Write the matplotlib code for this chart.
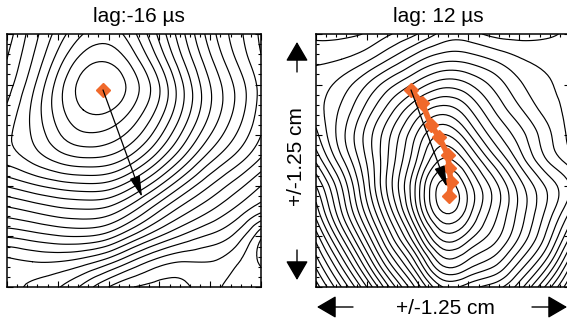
import numpy as np
import matplotlib
matplotlib.use('Agg')
import matplotlib.pyplot as plt
import matplotlib.tri as mtri

plt.rcParams['font.family'] = ['Liberation Sans', 'DejaVu Sans']

# grid positions (cm) across each 2.5 cm panel
grid_cm = np.linspace(0, 2.5, 11)

# left panel field (contour index from the peak), rows listed top -> bottom
left_field = [
    [8.5, 6.5, 4.6, 3.0, 2.5, 3.8, 6.3, 9.0, 11.5, 13.5, 15.2],
    [8.0, 6.0, 3.6, 1.6, 1.2, 2.6, 5.2, 8.2, 10.8, 13.0, 14.9],
    [7.5, 5.3, 2.6, 0.6, 0.2, 1.6, 4.0, 7.2, 10.0, 12.2, 14.4],
    [6.8, 4.8, 2.5, 1.0, 0.9, 2.2, 4.4, 7.3, 10.0, 12.2, 14.5],
    [6.2, 4.9, 3.2, 2.2, 2.4, 3.6, 5.8, 8.5, 11.0, 13.0, 15.0],
    [6.7, 5.8, 4.8, 4.3, 4.5, 5.8, 8.0, 10.5, 12.8, 14.5, 16.2],
    [8.9, 8.2, 7.6, 7.3, 7.5, 8.9, 11.0, 13.2, 15.0, 16.5, 18.0],
    [11.4, 10.9, 10.4, 10.2, 10.5, 12.0, 14.0, 15.7, 17.0, 18.3, 19.8],
    [13.9, 13.5, 13.1, 13.0, 13.6, 15.3, 17.0, 18.3, 19.2, 20.3, 22.8],
    [16.3, 16.0, 16.0, 16.5, 17.6, 19.2, 20.5, 21.0, 21.0, 21.8, 23.2],
    [16.7, 17.2, 17.9, 19.3, 21.0, 22.0, 22.3, 22.2, 21.6, 22.6, 22.0],
]

# right panel field (contour index from the centre), rows listed top -> bottom
right_field = [
    [19.3, 19.2, 18.9, 18.0, 17.0, 15.7, 15.6, 16.3, 16.4, 16.2, 15.8],
    [18.2, 18.0, 17.2, 15.8, 14.3, 13.3, 13.4, 14.1, 14.9, 15.3, 15.5],
    [17.6, 16.6, 15.0, 13.2, 11.6, 10.4, 10.9, 12.3, 13.8, 14.8, 15.3],
    [17.5, 15.8, 13.6, 11.2, 8.8, 7.5, 8.8, 11.0, 12.8, 14.3, 15.3],
    [18.3, 15.4, 12.6, 9.8, 6.8, 4.9, 6.8, 9.5, 11.5, 13.5, 15.3],
    [19.8, 16.3, 12.9, 9.4, 5.8, 2.8, 4.5, 7.5, 10.3, 12.8, 14.5],
    [22.0, 18.0, 13.5, 9.0, 4.5, 0.6, 2.5, 5.5, 8.5, 11.0, 13.0],
    [23.5, 19.0, 14.5, 10.0, 5.0, 0.9, 2.5, 5.5, 8.3, 11.0, 14.0],
    [25.5, 21.0, 16.5, 12.0, 7.5, 3.5, 4.5, 6.5, 9.0, 12.0, 16.0],
    [27.5, 23.5, 19.0, 14.5, 10.5, 6.5, 7.2, 8.5, 11.0, 14.0, 18.5],
    [29.5, 26.0, 22.0, 17.5, 13.5, 10.0, 10.5, 11.5, 13.5, 17.0, 21.0],
]

left_levels = np.arange(1, 24)
right_levels = np.arange(1, 30)

# peak positions (cm)
left_path_x = [0.945]
left_path_y = [1.947]
right_path_x = [0.935, 1.043, 1.132, 1.211, 1.299, 1.309, 1.329, 1.309]
right_path_y = [1.947, 1.818, 1.601, 1.482, 1.304, 1.176, 1.038, 0.899]

# arrows (start, end) in cm
left_arrow = ((0.945, 1.947), (1.329, 0.889))
right_arrow = ((0.935, 1.947), (1.289, 0.988))

titles = ['lag:-16 \u00b5s', 'lag: 12 \u00b5s']
axis_label = '+/-1.25 cm'

orange = '#F0692B'

fig = plt.figure(figsize=(5.67, 3.2), dpi=100)
ax1 = fig.add_axes([7 / 567, 33 / 320, 254 / 567, 253 / 320])
ax2 = fig.add_axes([316 / 567, 33 / 320, 254 / 567, 253 / 320])


def draw(ax, field, levels, px, py, arrow, ms, line):
    X, Y = np.meshgrid(grid_cm, grid_cm)
    Z = np.array(field)[::-1]
    tri = mtri.Triangulation(X.ravel(), Y.ravel())
    interp = mtri.CubicTriInterpolator(tri, Z.ravel())
    refiner = mtri.UniformTriRefiner(tri)
    tri_r, z_r = refiner.refine_field(Z.ravel(), triinterpolator=interp, subdiv=3)
    ax.tricontour(tri_r, z_r, levels=levels, colors='k', linewidths=0.85)
    if line:
        ax.plot(px, py, '-', color=orange, lw=4, zorder=3, solid_capstyle='round')
    ax.plot(px, py, 'D', color=orange, ms=ms, mec=orange, zorder=3, ls='none')
    ax.annotate('', xy=arrow[1], xytext=arrow[0],
                arrowprops=dict(arrowstyle='-|>,head_length=1.0,head_width=0.25',
                                color='k', lw=0.9, shrinkA=0, shrinkB=0,
                                mutation_scale=13),
                zorder=5)
    ax.set_xlim(0, 2.5)
    ax.set_ylim(0, 2.5)
    ax.set_xticks(np.arange(0, 2.51, 0.5))
    ax.set_yticks(np.arange(0, 2.51, 0.5))
    ax.set_xticks(np.arange(0, 2.51, 0.1), minor=True)
    ax.set_yticks(np.arange(0, 2.51, 0.1), minor=True)
    ax.tick_params(which='both', direction='in', top=True, right=True,
                   labelbottom=False, labelleft=False, width=0.8)
    ax.tick_params(which='major', length=4)
    ax.tick_params(which='minor', length=2)
    for s in ax.spines.values():
        s.set_linewidth(1.1)


draw(ax1, left_field, left_levels, left_path_x, left_path_y, left_arrow, 7.5, False)
draw(ax2, right_field, right_levels, right_path_x, right_path_y, right_arrow, 6.8, True)

fig.text(139 / 567, 298 / 320, titles[0], ha='center', va='baseline', fontsize=15)
fig.text(438 / 567, 298 / 320, titles[1], ha='center', va='baseline', fontsize=15)

fig.text(297 / 567, (320 - 157) / 320, axis_label, rotation=90, ha='center',
         va='center', fontsize=15)
fig.text(445 / 567, 12 / 320, axis_label, ha='center', va='center', fontsize=15)

big = dict(arrowstyle='-|>,head_length=0.6,head_width=0.35', color='k', lw=1.0,
           shrinkA=0, shrinkB=0, mutation_scale=20)
for tail, tip in [((297, 248), (297, 278)), ((297, 70), (297, 40)),
                  ((353, 13), (317, 13)), ((532, 13), (567, 13))]:
    ax1.annotate('', xy=tip, xycoords='figure pixels', xytext=tail,
                 textcoords='figure pixels', arrowprops=big, annotation_clip=False)

fig.savefig('out.png', dpi=100)
